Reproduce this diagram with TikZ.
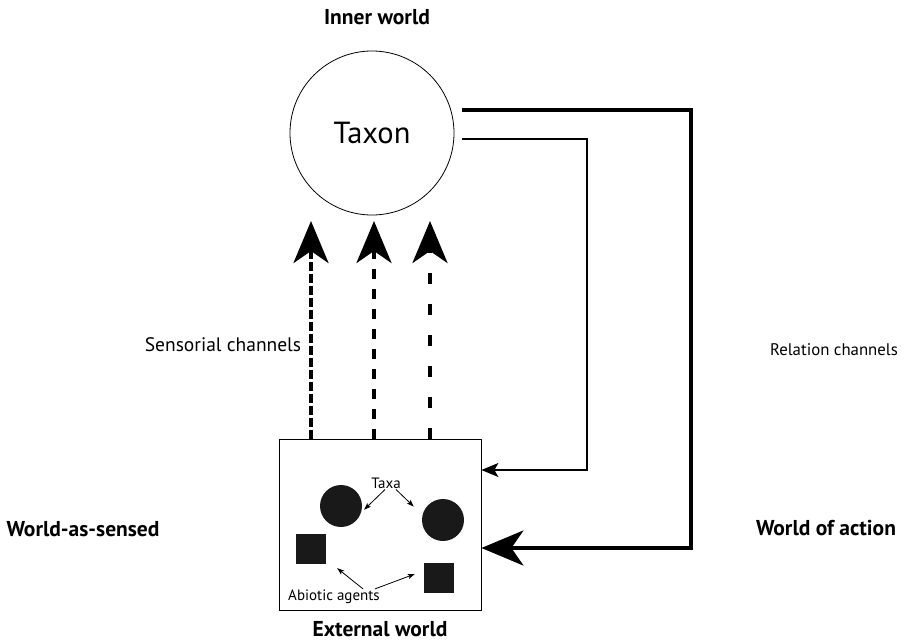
\documentclass[tikz,border=0pt]{standalone}
\usepackage{fontspec}
\setmainfont{PT Sans}
\usetikzlibrary{arrows.meta}

\tikzset{
  sensechan/.style={line width=4pt,-{Stealth[length=42pt,width=35pt,inset=12pt]}},
  bigtip/.style={-{Stealth[length=42pt,width=35pt,inset=12pt]}},
  smalltip/.style={-{Stealth[length=17pt,width=14pt,inset=4pt]}},
  tinytip/.style={line width=0.8pt,-{Stealth[length=7pt,width=5pt,inset=1.5pt]}},
  worldlbl/.style={font=\fontsize{21.5}{25}\selectfont\bfseries},
  chanlbl/.style={font=\fontsize{19.5}{23}\selectfont},
  boxlbl/.style={font=\fontsize{15}{17}\selectfont,inner sep=1pt}
}

\begin{document}
\begin{tikzpicture}[x=1pt,y=-1pt]
\useasboundingbox (0,0) rectangle (913,643);

% the taxon and its outside world
\node[draw,circle,minimum size=164pt,inner sep=0pt,line width=0.8pt] (taxon) at (372,133) {\fontsize{30.5}{36}\selectfont Taxon};
\node[draw,rectangle,minimum width=202pt,minimum height=171pt,inner sep=0pt,line width=0.8pt] (ext) at (380,524.5) {};

% world labels
\node[worldlbl] (inner) at (377,17) {Inner world};
\node[worldlbl,inner sep=1pt] (outer) at (380,629) {External world};
\node[worldlbl] (sensed) at (83,529) {World-as-sensed};
\node[worldlbl] (action) at (826,528) {World of action};
\node[chanlbl] (senslbl) at (223,345) {Sensorial channels};
\node[chanlbl,font=\fontsize{16.8}{20}\selectfont] (rellbl) at (834,350) {Relation channels};

% sensorial channels
\coordinate (tipA) at (311,221);
\coordinate (tipB) at (374,221);
\coordinate (tipC) at (430,221);
\draw[sensechan,dash pattern=on 9pt off 3pt] (ext.north -| tipA) -- (tipA);
\draw[sensechan,dash pattern=on 10pt off 10pt] (ext.north -| tipB) -- (tipB);
\draw[sensechan,dash pattern=on 11pt off 20pt] (ext.north -| tipC) -- (tipC);

% relation channels
\coordinate (relA) at (462,110);
\coordinate (turnA) at (691,548);
\coordinate (relB) at (462,139);
\coordinate (turnB) at (587,470);
\draw[line width=4pt,bigtip] (relA) -| (turnA) -- (ext.east |- turnA);
\draw[line width=1.3pt,smalltip] (relB) -| (turnB) -- (ext.east |- turnB);

% inside the external world
\node[circle,fill=black!90,minimum size=42pt,inner sep=0pt] (taxa1) at (341,506) {};
\node[circle,fill=black!90,minimum size=42pt,inner sep=0pt] (taxa2) at (443,520) {};
\node[rectangle,fill=black!90,minimum size=30pt,inner sep=0pt] (abio1) at (311,549) {};
\node[rectangle,fill=black!90,minimum size=30pt,inner sep=0pt] (abio2) at (439,578) {};
\node[boxlbl] (taxa) at (386,483) {Taxa};
\node[boxlbl] (abiotic) at (334,597) {Abiotic agents};

\draw[tinytip,shorten >=4pt] ([xshift=-1pt]taxa.south) -- (taxa1.-18);
\draw[tinytip,shorten >=12pt] ([xshift=10pt]taxa.south) -- (taxa2.166);
\draw[tinytip] ([xshift=29pt]abiotic.north) -- ([shift={(11,4)}]abio1.south east);
\draw[tinytip] ([xshift=41pt]abiotic.north) -- ([shift={(-9,-4)}]abio2.west);
\end{tikzpicture}
\end{document}
